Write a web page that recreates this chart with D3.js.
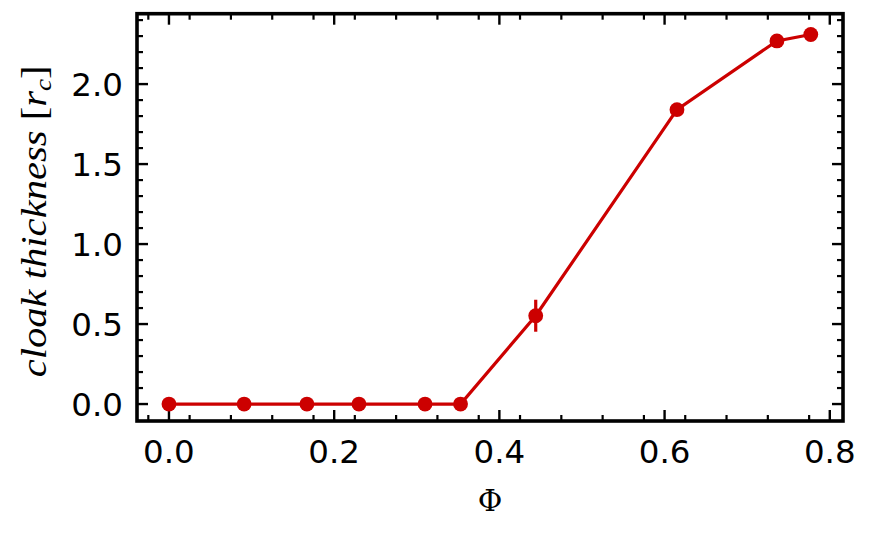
<!DOCTYPE html>
<html>
<head>
<meta charset="utf-8">
<script src="https://cdn.jsdelivr.net/npm/d3@7"></script>
<style>
  html, body { margin: 0; padding: 0; background: #fff; }
  svg { display: block; }
</style>
</head>
<body>
<svg id="chart" width="870" height="535"></svg>
<script>
const phiValues = [0.0, 0.091, 0.167, 0.230, 0.310, 0.353, 0.444, 0.615, 0.736, 0.777];
const thicknessValues = [0, 0, 0, 0, 0, 0, 0.552, 1.84, 2.27, 2.31];
const thicknessErrors = [0, 0, 0, 0, 0, 0, 0.10, 0, 0, 0];
const xTickValues = [0.0, 0.2, 0.4, 0.6, 0.8];
const yTickValues = [0.0, 0.5, 1.0, 1.5, 2.0];
const xTickLabels = ["0.0", "0.2", "0.4", "0.6", "0.8"];
const yTickLabels = ["0.0", "0.5", "1.0", "1.5", "2.0"];

(function () {
const color = "#cc0000";
const svg = d3.select("#chart");
const pl = 137, pr = 843, pt = 13.7, pb = 421;

const x = d3.scaleLinear().domain([-0.0387, 0.8160]).range([pl, pr]);
const y = d3.scaleLinear().domain([-0.106, 2.44]).range([pb, pt]);

const g = svg.append("g");

const xMinor = d3.range(-0.025, 0.826, 0.05).filter(v => x(v) > pl + 2 && x(v) < pr - 2 && Math.abs(Math.round(v * 5) - v * 5) > 0.01);
const yMinor = d3.range(-0.1, 2.45, 0.1).filter(v => y(v) > pt + 2 && y(v) < pb - 2 && Math.abs(Math.round(v * 2) - v * 2) > 0.01);

function addTicks(vals, len, width) {
  vals.forEach(v => {
    const px = x(v);
    g.append("line").attr("x1", px).attr("x2", px).attr("y1", pb).attr("y2", pb - len).attr("stroke", "#000").attr("stroke-width", width);
    g.append("line").attr("x1", px).attr("x2", px).attr("y1", pt).attr("y2", pt + len).attr("stroke", "#000").attr("stroke-width", width);
  });
}
function addYTicks(vals, len, width) {
  vals.forEach(v => {
    const py = y(v);
    g.append("line").attr("x1", pl).attr("x2", pl + len).attr("y1", py).attr("y2", py).attr("stroke", "#000").attr("stroke-width", width);
    g.append("line").attr("x1", pr).attr("x2", pr - len).attr("y1", py).attr("y2", py).attr("stroke", "#000").attr("stroke-width", width);
  });
}
addTicks(xTickValues, 11, 2.4);
addTicks(xMinor, 6, 2.2);
addYTicks(yTickValues, 11, 2.4);
addYTicks(yMinor, 6, 2.2);

g.append("rect").attr("x", pl).attr("y", pt).attr("width", pr - pl).attr("height", pb - pt)
  .attr("fill", "none").attr("stroke", "#000").attr("stroke-width", 3.6);

const tickFont = "'DejaVu Sans', sans-serif";
xTickValues.forEach((v, i) => {
  g.append("text").attr("x", x(v)).attr("y", 463).attr("text-anchor", "middle")
    .attr("font-family", tickFont).attr("font-size", 32.5).attr("fill", "#000").text(xTickLabels[i]);
});
yTickValues.forEach((v, i) => {
  g.append("text").attr("x", 123).attr("y", y(v) + 11.5).attr("text-anchor", "end")
    .attr("font-family", tickFont).attr("font-size", 32.5).attr("fill", "#000").text(yTickLabels[i]);
});

const data = phiValues.map((p, i) => ({ p, t: thicknessValues[i], e: thicknessErrors[i] }));
const line = d3.line().x(d => x(d.p)).y(d => y(d.t));
g.append("path").datum(data).attr("d", line).attr("fill", "none").attr("stroke", color).attr("stroke-width", 3.2);
g.selectAll(".err").data(data.filter(d => d.e > 0)).enter().append("line")
  .attr("x1", d => x(d.p)).attr("x2", d => x(d.p))
  .attr("y1", d => y(d.t - d.e)).attr("y2", d => y(d.t + d.e))
  .attr("stroke", color).attr("stroke-width", 3.2);
g.selectAll(".pt").data(data).enter().append("circle")
  .attr("cx", d => x(d.p)).attr("cy", d => y(d.t)).attr("r", 7.4).attr("fill", color);

g.append("text").attr("x", (pl + pr) / 2).attr("y", 511).attr("text-anchor", "middle")
  .attr("font-family", "'DejaVu Serif', serif").attr("font-size", 30).attr("fill", "#000").text("Φ");

const yl = g.append("text").attr("transform", `translate(46, ${(pt + pb) / 2 + 4}) rotate(-90)`)
  .attr("text-anchor", "middle").attr("font-family", "'Liberation Serif', serif").attr("font-size", 36).attr("fill", "#000")
  .attr("textLength", 312).attr("lengthAdjust", "spacingAndGlyphs");
yl.append("tspan").attr("font-style", "italic").text("cloak thickness ");
yl.append("tspan").text("[");
yl.append("tspan").attr("font-style", "italic").text("r");
yl.append("tspan").attr("font-style", "italic").attr("font-size", 24).attr("dy", 5).text("c");
yl.append("tspan").attr("dy", -5).text("]");
})();
</script>
</body>
</html>
